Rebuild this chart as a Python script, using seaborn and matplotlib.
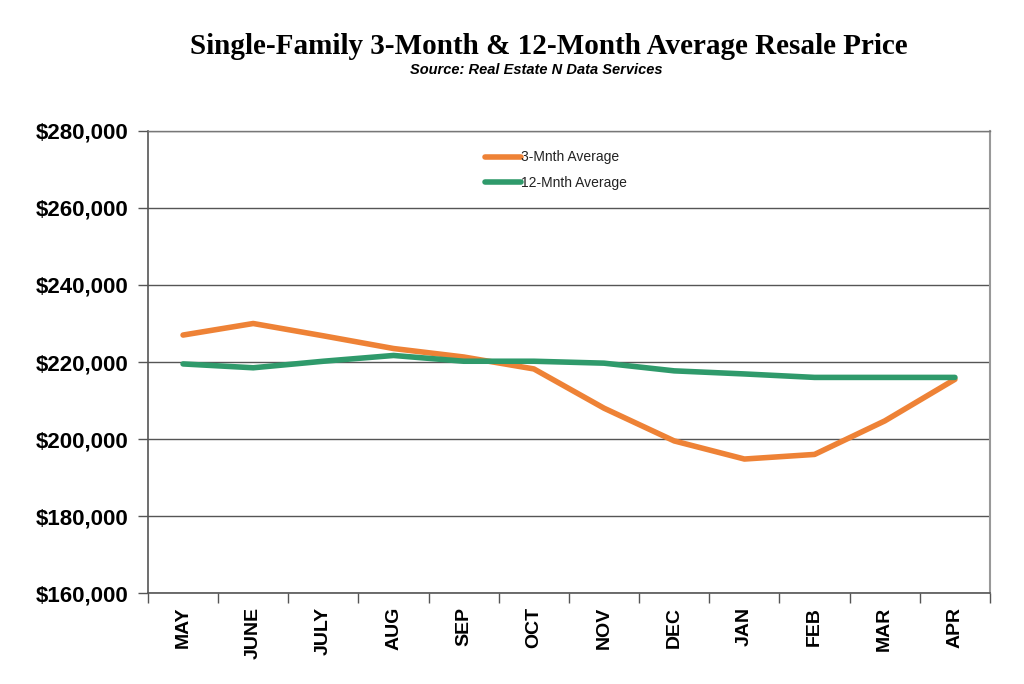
import matplotlib
matplotlib.use("Agg")
import matplotlib.pyplot as plt
import matplotlib.ticker as mticker
import seaborn as sns
import pandas as pd
import numpy as np

months = ["MAY", "JUNE", "JULY", "AUG", "SEP", "OCT", "NOV", "DEC", "JAN", "FEB", "MAR", "APR"]
avg_3m = [227000, 230000, 226800, 223500, 221300, 218200, 208000, 199500, 194800, 196000, 204700, 215500]
avg_12m = [219500, 218500, 220200, 221700, 220200, 220200, 219700, 217700, 216900, 216000, 216000, 216000]
series_names = ["3-Mnth Average", "12-Mnth Average"]
colors = ["#EE8236", "#2F9A6B"]
y_ticks = [160000, 180000, 200000, 220000, 240000, 260000, 280000]

sns.set_theme(style="white")
plt.rcParams["font.family"] = ["Liberation Sans", "DejaVu Sans"]
plt.rcParams["text.color"] = "black"
plt.rcParams["xtick.labelcolor"] = "black"
plt.rcParams["ytick.labelcolor"] = "black"

df = pd.DataFrame({
    "month": months * 2,
    "pos": list(range(len(months))) * 2,
    "value": avg_3m + avg_12m,
    "series": [series_names[0]] * len(months) + [series_names[1]] * len(months),
})

fig = plt.figure(figsize=(10.24, 6.84), dpi=100)
ax = fig.add_axes([0.1445, 0.133, 0.8223, 0.6755])

sns.lineplot(data=df, x="pos", y="value", hue="series", palette=colors,
             hue_order=series_names, linewidth=4, ax=ax, legend=True)

ax.set_xlim(-0.5, len(months) - 0.5)
ax.set_ylim(y_ticks[0], y_ticks[-1])
ax.set_yticks(y_ticks)
ax.yaxis.set_major_formatter(mticker.FuncFormatter(lambda v, p: f"${int(v):,}"))
ax.set_xticks(range(len(months)))
ax.set_xticklabels(months, rotation=90, fontsize=14, fontweight="bold", color="black")
ax.set_xticks(np.arange(-0.5, len(months), 1.0), minor=True)
ax.tick_params(axis="x", which="major", length=0, pad=10)
ax.tick_params(axis="x", which="minor", length=7, width=1, color="#555555", direction="out", bottom=True)
ax.tick_params(axis="y", length=7, width=1, color="#555555", direction="out", left=True, labelsize=16, pad=7)
for lbl in ax.get_yticklabels():
    lbl.set_fontweight("bold")
    lbl.set_color("black")
ax.set_xlabel("")
ax.set_ylabel("")
ax.grid(axis="y", color="#555555", linewidth=1)
ax.grid(axis="x", visible=False)
for side in ["left", "bottom"]:
    ax.spines[side].set_color("#555555")
    ax.spines[side].set_linewidth(1.2)
ax.spines["right"].set_color("#999999")
ax.spines["right"].set_linewidth(1.5)
ax.spines["top"].set_color("#777777")
ax.spines["top"].set_linewidth(1)
ax.set_axisbelow(True)

leg = ax.legend(loc="upper left", bbox_to_anchor=(0.385, 0.985), frameon=False,
                fontsize=10, handlelength=2.6, handletextpad=0.0, labelspacing=0.85)
for line in leg.get_lines():
    line.set_linewidth(4)
for t in leg.get_texts():
    t.set_color("#222222")

fig.text(0.536, 0.932, "Single-Family 3-Month & 12-Month Average Resale Price",
         ha="center", va="center", fontsize=21, fontweight="bold", color="black",
         family=["Liberation Serif", "DejaVu Serif"])
fig.text(0.524, 0.897, "Source: Real Estate N Data Services", ha="center", va="center",
         fontsize=10.5, fontweight="bold", fontstyle="italic", color="black")

fig.savefig("out.png", dpi=100)
